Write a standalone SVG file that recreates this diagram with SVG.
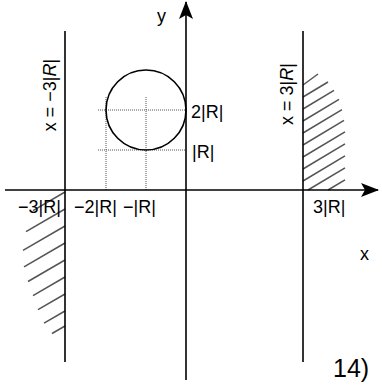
<svg xmlns="http://www.w3.org/2000/svg" width="382" height="388" viewBox="0 0 382 388">
<style>
.ax{stroke:#000;stroke-width:1.6;fill:none}
.dot{stroke:#555;stroke-width:1;stroke-dasharray:1,1;fill:none}
.h{stroke:#555;stroke-width:1.5;fill:none}
text{font-family:"Liberation Sans",Arial,sans-serif;font-size:18px;fill:#000}
</style>
<defs>
<marker id="ah" markerWidth="18" markerHeight="16" refX="17" refY="8" orient="auto" markerUnits="userSpaceOnUse" viewBox="0 0 18 16">
<path d="M0,1 L18,8 L0,15 L4,8 Z" fill="#000"/>
</marker>
</defs>
<rect width="382" height="388" fill="#fff"/>
<g id="hatch-right">
<path class="h" d="M303,85L318,74M303,97L328,82M303,109L334,90.4M303,121L339,99.4M303,133L342,109.6M303,145L344,120.4M303,157L345,131.8M303,169L345,143.8M303,181L345,155.8M308,190L345,167.8M328,190L345,179.8"/>
</g>
<g id="hatch-left">
<path class="h" d="M65,192L33,210.6M65,209L26,231.6M65,226L23,250.4M65,243L24,266.8M65,260L28,281.5M65,277L33,295.6M65,294L38,309.7M65,311L44,323.2M65,326L52,333.5"/>
</g>
<g id="guides">
<path class="dot" d="M98,110H186M98,150H186M106,97V190M146,97V190"/>
</g>
<g id="circle"><circle cx="146" cy="110" r="40" class="ax"/></g>
<g id="connectors">
<line class="ax" x1="5" y1="190" x2="378" y2="190" marker-end="url(#ah)"/>
<line class="ax" x1="186" y1="380" x2="186" y2="2" marker-end="url(#ah)"/>
<line class="ax" x1="65" y1="31" x2="65" y2="362"/>
<line class="ax" x1="303" y1="31" x2="303" y2="362"/>
</g>
<g id="labels">
<text x="157" y="22">y</text>
<text x="360" y="260">x</text>
<text x="191" y="118">2|R|</text>
<text x="192" y="158">|R|</text>
<text x="18" y="213">−3|R|</text>
<text x="74" y="213">−2|R|</text>
<text x="123" y="213">−|R|</text>
<text x="313" y="213">3|R|</text>
<text x="333" y="377" style="font-size:25px">14)</text>
<text transform="translate(56,95) rotate(-90)" text-anchor="middle">x = −3|<tspan font-style="italic">R</tspan>|</text>
<text transform="translate(293,94) rotate(-90)" text-anchor="middle">x = 3|<tspan font-style="italic">R</tspan>|</text>
</g>
</svg>
